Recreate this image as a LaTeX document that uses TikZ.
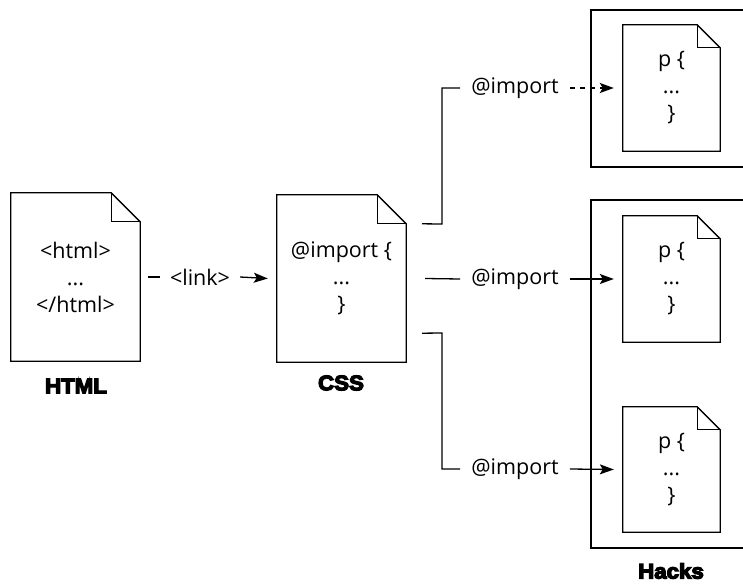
\documentclass[tikz,border=0pt]{standalone}
\usepackage{fontspec}
\setmainfont{Open Sans}
\newfontfamily\heavyfont[FakeBold=6,FakeStretch=1.06]{Liberation Sans Bold}
\usetikzlibrary{calc,arrows.meta}
\tikzset{
  docnode/.style={minimum width=#1, inner sep=0pt, align=center, font=\fontsize{21.5}{27}\selectfont},
  lbl/.style={font=\fontsize{21.5}{25}\selectfont, inner sep=0pt},
  title/.style={font=\heavyfont\fontsize{21}{24}\selectfont, inner sep=0pt},
  line/.style={line width=1.3pt},
  arr/.style={line width=1.3pt, -{Stealth[length=14pt,width=10pt,inset=3pt]}},
  frame/.style={line width=1.2pt}
}
\newcommand{\docoutline}[2]{%
  \draw[line width=1.3pt, line join=miter] (#1.north west) -- ($(#1.north east)+(-#2,0)$) -- ($(#1.north east)+(0,#2)$) -- (#1.south east) -- (#1.south west) -- cycle;
  \draw[line width=1.3pt] ($(#1.north east)+(-#2,0)$) |- ($(#1.north east)+(0,#2)$);
}
\begin{document}
\begin{tikzpicture}[x=1pt,y=-1pt]
\path[use as bounding box, clip] (0,0) rectangle (743,583);
\fill[white] (0,0) rectangle (743,583);

% frames
\draw[frame] (591,10) rectangle (770,167);
\draw[frame] (591,200) rectangle (770,548);

% documents
\node[docnode=129pt, minimum height=168pt] (html) at (75.5,277) {<html>\\...\\</html>};
\node[docnode=129pt, minimum height=167pt] (css) at (341.5,278.5) {@import \{\\...\\\}};
\node[docnode=97pt, minimum height=126pt] (p1) at (671.5,88) {p \{\\...\\\}};
\node[docnode=97pt, minimum height=126pt] (p2) at (671.5,279) {p \{\\...\\\}};
\node[docnode=97pt, minimum height=125pt] (p3) at (671.5,469.5) {p \{\\...\\\}};
\docoutline{html}{29}
\docoutline{css}{29}
\docoutline{p1}{23}
\docoutline{p2}{23}
\docoutline{p3}{23}

% titles
\node[title] (thtml) at (76,386) {HTML};
\node[title] (tcss) at (341,383) {CSS};
\node[title] (thacks) at (671,571) {Hacks};

% html -> css
\coordinate (h0) at ($(html.east)+(8,0)$);
\node[lbl, fill=white, inner xsep=10pt, inner ysep=4pt] (llink) at (200,277) {<link>};
\draw[line] (h0) -- (llink.west);
\draw[arr] (llink.east) -- ($(css.west)+(-9,0)$);

% css -> p docs
\coordinate (c1) at ($(css.north east)+(16,29)$);
\coordinate (c2) at ($(css.east)+(19,0)$);
\coordinate (c3) at ($(css.south east)+(16,-29)$);
\node[lbl, inner xsep=11pt] (l1) at (515,88) {@import};
\node[lbl, inner xsep=11pt] (l2) at (515,279) {@import};
\node[lbl, inner xsep=11pt] (l3) at (515,469) {@import};
\draw[line] (c1) -- (442,224) |- (l1.west);
\draw[line] (c2) -- (l2.west);
\draw[line] (c3) -- (442,333) |- (l3.west);
\draw[arr, dash pattern=on 5pt off 5pt] (l1.east) -- ($(p1.west)+(-9,0)$);
\draw[arr] (l2.east) -- ($(p2.west)+(-9,0)$);
\draw[arr] (l3.east) -- ($(p3.west)+(-9,0)$);
\end{tikzpicture}
\end{document}
